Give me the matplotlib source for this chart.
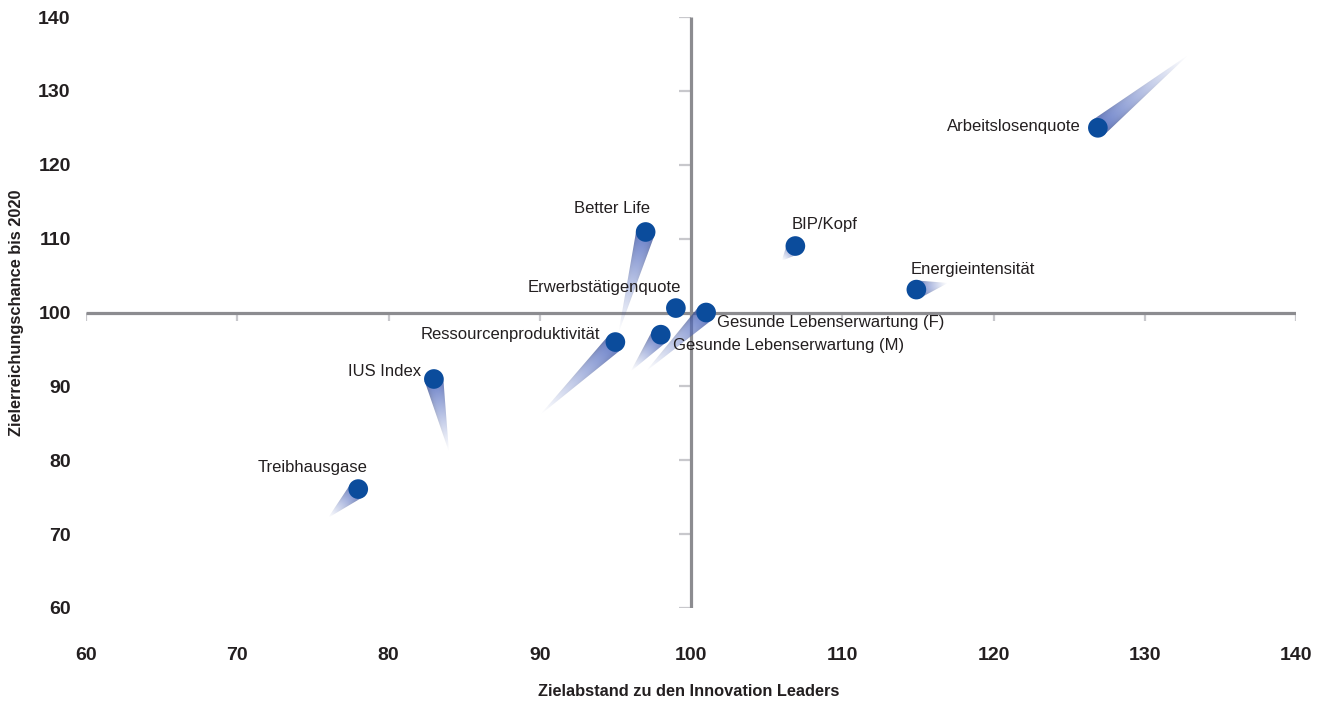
import numpy as np
import matplotlib
matplotlib.use("Agg")
import matplotlib.pyplot as plt
from matplotlib.patches import Polygon
from matplotlib import font_manager

# ---------------- data ----------------
names = ["Arbeitslosenquote", "Better Life", "Erwerbstätigenquote",
         "Gesunde Lebenserwartung (F)", "Gesunde Lebenserwartung (M)",
         "Ressourcenproduktivität", "IUS Index", "Treibhausgase",
         "BIP/Kopf", "Energieintensität"]
x_vals = [126.9, 97.0, 99.0, 101.0, 98.0, 95.0, 83.0, 78.0, 106.9, 114.9]
y_vals = [125.0, 110.9, 100.6, 100.0, 97.0, 96.0, 91.0, 76.1, 109.0, 103.1]
# end points of the trailing "comet" tails
x_tail = [132.9, 95.2, 98.9, 97.0, 96.0, 90.0, 84.0, 76.0, 106.0, 117.0]
y_tail = [134.9, 97.2, 99.2, 92.0, 92.0, 86.1, 81.1, 72.2, 107.0, 104.0]
x_ticks = [60, 70, 80, 90, 100, 110, 120, 130, 140]
y_ticks = [60, 70, 80, 90, 100, 110, 120, 130, 140]
x_title = "Zielabstand zu den Innovation Leaders"
y_title = "Zielerreichungschance bis 2020"

# label offsets in pixels and alignment
label_off = [(-17, 1, "right"), (-34, 23, "center"), (-72, 21, "center"),
             (11, -10, "left"), (12, -11, "left"), (-15, 8, "right"),
             (-13, 7, "right"), (-46, 22, "center"), (29, 22, "center"),
             (56, 20, "center")]

# ---------------- fonts ----------------
avail = set(font_manager.get_font_names())
narrow = "Liberation Sans Narrow" if "Liberation Sans Narrow" in avail else "Liberation Sans"
base = "Liberation Sans" if "Liberation Sans" in avail else "DejaVu Sans"

W, H = 1317, 703
fig = plt.figure(figsize=(W / 100, H / 100), dpi=100)
ax = fig.add_axes([86 / W, 1 - 608 / H, (1296 - 86) / W, (608 - 17) / H])
ax.set_xlim(60, 140)
ax.set_ylim(60, 140)
for s in ax.spines.values():
    s.set_visible(False)

line_col = "#8c8c90"
tick_col = "#c8c8cc"
ax.plot([60, 140], [100, 100], color=line_col, lw=2.3, zorder=2, solid_capstyle="butt")
ax.plot([100, 100], [60, 140], color=line_col, lw=2.3, zorder=2, solid_capstyle="butt")
for xt in x_ticks:
    if xt != 100:
        ax.plot([xt, xt], [100, 98.9], color=tick_col, lw=1.6, zorder=1, solid_capstyle="butt")
for yt in y_ticks:
    if yt != 100:
        ax.plot([99.2, 100], [yt, yt], color=tick_col, lw=1.6, zorder=1, solid_capstyle="butt")

ax.set_xticks(x_ticks)
ax.set_yticks(y_ticks)
ax.set_xticklabels([str(v) for v in x_ticks], fontfamily=base, fontweight="bold", fontsize=14, color="#231f20")
ax.set_yticklabels([str(v) for v in y_ticks], fontfamily=base, fontweight="bold", fontsize=14, color="#231f20")
ax.tick_params(axis="x", length=0, pad=28)
ax.tick_params(axis="y", length=0, pad=11)

fig.text(689 / W, 1 - 692 / H, x_title, ha="center", va="center",
         fontfamily=narrow, fontweight="bold", fontsize=11.8, color="#231f20")
fig.text(17 / W, 1 - 313 / H, y_title, ha="center", va="center", rotation=90,
         fontfamily=narrow, fontweight="bold", fontsize=11.8, color="#231f20")

# ---------------- comet tails ----------------
fig.canvas.draw()
tD = ax.transData
inv = tD.inverted()
r = 9.5  # marker radius in pixels
tail_rgb = np.array([0.27, 0.36, 0.66])
for xv, yv, xt_, yt_ in zip(x_vals, y_vals, x_tail, y_tail):
    P = tD.transform((xv, yv))
    T = tD.transform((xt_, yt_))
    d = T - P
    L = np.hypot(*d)
    u = d / L
    n = np.array([-u[1], u[0]])
    tri = np.array([P + n * r, P - n * r, T])
    tri_data = inv.transform(tri)
    x0, y0 = tri.min(axis=0) - 2
    x1, y1 = tri.max(axis=0) + 2
    nx = max(int(x1 - x0), 2)
    ny = max(int(y1 - y0), 2)
    gx, gy = np.meshgrid(np.linspace(x0, x1, nx), np.linspace(y0, y1, ny))
    t = ((gx - P[0]) * u[0] + (gy - P[1]) * u[1]) / L
    t = np.clip(t, 0, 1)
    s = ((gx - P[0]) * n[0] + (gy - P[1]) * n[1]) / (r * np.maximum(1 - t, 1e-3))
    s = np.clip(s, -1, 1)
    shade = 1 + 0.25 * (1 - s ** 2) ** 0.5 - 0.12
    img = np.zeros((ny, nx, 4))
    col = np.clip(tail_rgb[None, None, :] * shade[..., None], 0, 1)
    img[..., :3] = col
    img[..., 3] = 0.85 * (1 - t) ** 1.1
    d0 = inv.transform((x0, y0))
    d1 = inv.transform((x1, y1))
    im = ax.imshow(img, origin="lower", extent=[d0[0], d1[0], d0[1], d1[1]],
                   interpolation="bilinear", zorder=3, aspect="auto")
    poly = Polygon(tri_data, closed=True, transform=ax.transData, facecolor="none", edgecolor="none")
    ax.add_patch(poly)
    im.set_clip_path(poly)

ax.set_xlim(60, 140)
ax.set_ylim(60, 140)

ax.scatter(x_vals, y_vals, s=200, color="#0b4c9c", edgecolors="none", zorder=5)

for name, xv, yv, (dx, dy, ha) in zip(names, x_vals, y_vals, label_off):
    ax.annotate(name, (xv, yv), xytext=(dx, dy), textcoords="offset pixels",
                ha=ha, va="center", fontfamily=narrow, fontsize=12,
                color="#231f20", zorder=6)

fig.savefig("out.png", dpi=100, facecolor="white")
